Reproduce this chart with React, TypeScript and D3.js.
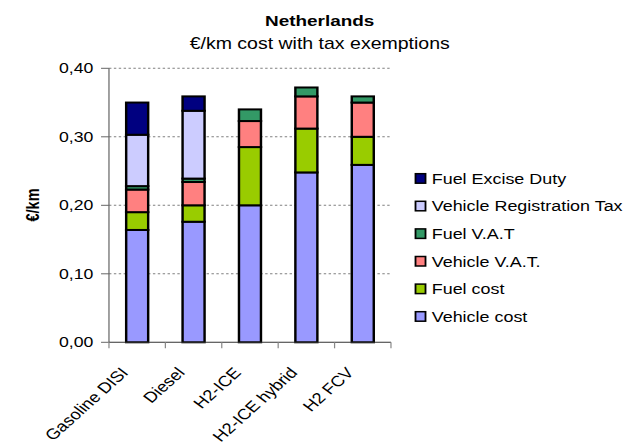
import React from "react";
import * as d3 from "d3";

const categories = ["Gasoline DISI", "Diesel", "H2-ICE", "H2-ICE hybrid", "H2 FCV"];
const vehicleCost = [0.164, 0.176, 0.2, 0.248, 0.259];
const fuelCost = [0.026, 0.024, 0.085, 0.064, 0.041];
const vehicleVAT = [0.033, 0.034, 0.038, 0.047, 0.05];
const fuelVAT = [0.005, 0.005, 0.017, 0.013, 0.009];
const registrationTax = [0.075, 0.099, 0, 0, 0];
const exciseDuty = [0.047, 0.021, 0, 0, 0];
const yTicks = [0, 0.1, 0.2, 0.3, 0.4];

const seriesNames = [
  "Vehicle cost",
  "Fuel cost",
  "Vehicle V.A.T.",
  "Fuel V.A.T",
  "Vehicle Registration Tax",
  "Fuel Excise Duty",
];
const seriesValues = [vehicleCost, fuelCost, vehicleVAT, fuelVAT, registrationTax, exciseDuty];
const seriesColors = ["#9999FF", "#99CC00", "#FF8080", "#339966", "#CCCCFF", "#000080"];

const VW = 513;
const H = 448;
const FONT = "'Liberation Sans', Arial, sans-serif";

export default function App() {
  const left = 89.3;
  const right = 320.4;
  const top = 68.3;
  const bottom = 342.3;

  const x = d3.scaleBand<string>().domain(categories).range([left, right]).paddingInner(0.61).paddingOuter(0.305);
  const xb = d3.scaleBand<string>().domain(categories).range([left, right]);
  const y = d3.scaleLinear().domain([0, 0.4]).range([bottom, top]);

  const rows = categories.map((c, i) => {
    const o: any = { cat: c };
    seriesNames.forEach((s, j) => (o[s] = seriesValues[j][i]));
    return o;
  });
  const stacked = d3.stack<any>().keys(seriesNames)(rows);

  const legendOrder = [...seriesNames].reverse();

  return (
    <svg
      width={626}
      height={H}
      viewBox={`0 0 ${VW} ${H}`}
      preserveAspectRatio="none"
      style={{ position: "absolute", left: 0, top: 0, display: "block", background: "#fff" }}
    >
      <rect x={0} y={0} width={VW} height={H} fill="#fff" />
      <text x={262} y={26.5} textAnchor="middle" fontFamily={FONT} fontWeight="bold" fontSize={15.5} fill="#000">
        Netherlands
      </text>
      <text x={262} y={49.5} textAnchor="middle" fontFamily={FONT} fontSize={16} fill="#000">
        €/km cost with tax exemptions
      </text>

      {/* gridlines */}
      {yTicks.filter((t) => t > 0).map((t) => (
        <line key={"g" + t} x1={left} x2={right} y1={y(t)} y2={y(t)} stroke="#808080" strokeWidth={1} strokeDasharray="2,2" />
      ))}

      {/* bars */}
      {stacked.map((layer, j) => (
        <g key={layer.key}>
          {layer.map((d, i) => {
            const v = d[1] - d[0];
            if (v <= 0) return null;
            return (
              <rect
                key={i}
                x={x(categories[i])}
                width={x.bandwidth()}
                y={y(d[1])}
                height={y(d[0]) - y(d[1])}
                fill={seriesColors[j]}
                stroke="#000"
                strokeWidth={2}
              />
            );
          })}
        </g>
      ))}

      {/* y axis */}
      <line x1={left} x2={left} y1={top} y2={bottom} stroke="#666" strokeWidth={1} />
      {yTicks.map((t) => (
        <g key={"y" + t}>
          <line x1={left - 6.5} x2={left} y1={y(t)} y2={y(t)} stroke="#666" strokeWidth={1} />
          <text x={76.5} y={y(t) + 5} textAnchor="end" fontFamily={FONT} fontSize={14.5} fill="#000">
            {d3.format(".2f")(t).replace(".", ",")}
          </text>
        </g>
      ))}

      {/* x axis */}
      <line x1={left} x2={right} y1={bottom} y2={bottom} stroke="#333" strokeWidth={1} />
      {[...categories.map((c) => xb(c) as number), right].map((px, i) => (
        <line key={"xt" + i} x1={px} x2={px} y1={bottom} y2={bottom + 6} stroke="#888" strokeWidth={1} />
      ))}
      {categories.map((c) => {
        const cx = (xb(c) as number) + xb.bandwidth() / 2 - 6.5;
        return (
          <text
            key={"xl" + c}
            transform={`translate(${cx},${bottom + 31}) rotate(-47.5)`}
            textAnchor="end"
            fontFamily={FONT}
            fontSize={15}
            fill="#000"
          >
            {c}
          </text>
        );
      })}

      {/* y label */}
      <text
        transform={`translate(32,205) rotate(-90)`}
        textAnchor="middle"
        fontFamily={FONT}
        fontWeight="bold"
        fontSize={14.5}
        fill="#000"
      >
        €/km
      </text>

      {/* legend */}
      {legendOrder.map((name, k) => {
        const j = seriesNames.indexOf(name);
        const cy = 178.7 + k * 27.6;
        return (
          <g key={"lg" + name}>
            <rect x={340.5} y={cy - 5} width={8.2} height={9.5} fill={seriesColors[j]} stroke="#000" strokeWidth={1.5} />
            <text x={353.8} y={cy + 5.2} fontFamily={FONT} fontSize={14.7} fill="#000">
              {name}
            </text>
          </g>
        );
      })}
    </svg>
  );
}
